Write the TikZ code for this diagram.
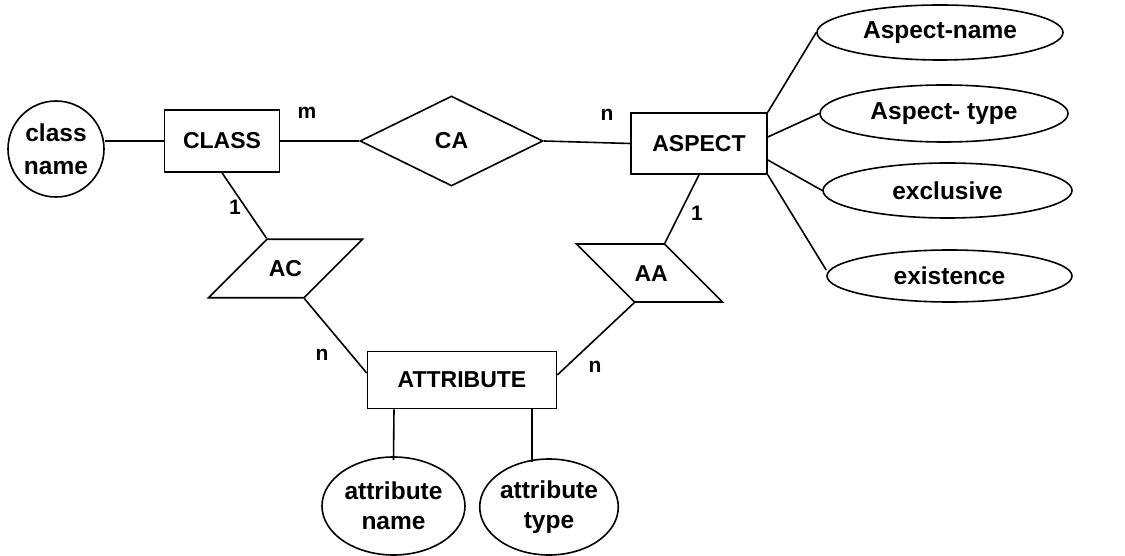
\documentclass[tikz,border=0pt]{standalone}
\usepackage{fontspec}
\setmainfont{Liberation Sans}
\usetikzlibrary{positioning}
\usetikzlibrary{shapes.geometric}

\begin{document}
\begin{tikzpicture}[
	x=1pt, y=-1pt,
	line width=1.6pt,
	every node/.style={font=\fontsize{23}{30}\selectfont\bfseries, inner sep=0pt},
	entity/.style={draw, rectangle},
	attr/.style={draw, ellipse, align=center, font=\fontsize{24.5}{30}\selectfont\bfseries},
	rel/.style={draw, diamond, aspect=2},
	weak/.style={draw, trapezium, align=center, text height=37.5pt, text depth=21pt},
	card/.style={font=\fontsize{21}{24}\selectfont\bfseries},
]
\useasboundingbox (0,0) rectangle (1125,556);

% entities
\node[entity, minimum width=115, minimum height=62](cls) at (222,141) {CLASS};
\node[entity, minimum width=136, minimum height=61](asp) at (699,143.5) {ASPECT};
\node[entity, minimum width=189, minimum height=57](att) at (462,380) {ATTRIBUTE};

% relationships
\node[rel, minimum width=183, minimum height=90](ca) at (451.5,141) {CA};
\node[weak, trapezium left angle=45, trapezium right angle=135, text width=37pt](ac) at (285.5,268.5) {AC};
\node[weak, trapezium left angle=135, trapezium right angle=45, text width=30pt, text height=37pt, text depth=21pt](aa) at (649.5,273) {AA};

% attributes
\node[draw, circle, minimum size=96, align=center, font=\fontsize{24.5}{33}\selectfont\bfseries](cname) at (56,149) {class\\name};
\node[attr, minimum width=246, minimum height=55](aname) at (940,32.5) {Aspect-name};
\node[attr, minimum width=248, minimum height=57](atype) at (944,113.5) {Aspect- type};
\node[attr, minimum width=249, minimum height=55](excl) at (947.5,190.5) {exclusive};
\node[attr, minimum width=245, minimum height=52](exist) at (949.5,276) {existence};
\node[attr, minimum width=143, minimum height=98](atname) at (393.5,506) {attribute\\name};
\node[attr, minimum width=134, minimum height=96](attype) at (549,507) {attribute\\type};

% cardinalities
\node[card](m1) at (307,113) {m};
\node[card](n1) at (607,115) {n};
\node[card](o1) at (235,207) {1};
\node[card](o2) at (697,213) {1};
\node[card](n2) at (322,355) {n};
\node[card](n3) at (595,367) {n};

\draw (cls.west) -- (cls.west -| cname.east);
\draw (cls.east) -- (ca.west);
\draw (ca.east) -- (asp.west);

\draw (asp.north east) -- (aname.west);
\draw ([yshift=6.5pt]asp.east) -- (atype.west);
\draw ([yshift=-16.5pt]asp.east) -- (excl.west);
\draw (asp.south east) -- ([yshift=6pt]exist.west);

\draw (cls.south) -- (ac.top left corner);
\draw (ac.bottom right corner) -- ([yshift=7pt]att.west);
\draw (asp.south) -- (aa.top right corner);
\draw (aa.bottom left corner) -- ([yshift=5pt]att.east);

\draw (att.south -| 394,0) -- (atname.north |- 394,460);
\draw (att.south -| 532,0) -- (532,462);
\end{tikzpicture}
\end{document}
